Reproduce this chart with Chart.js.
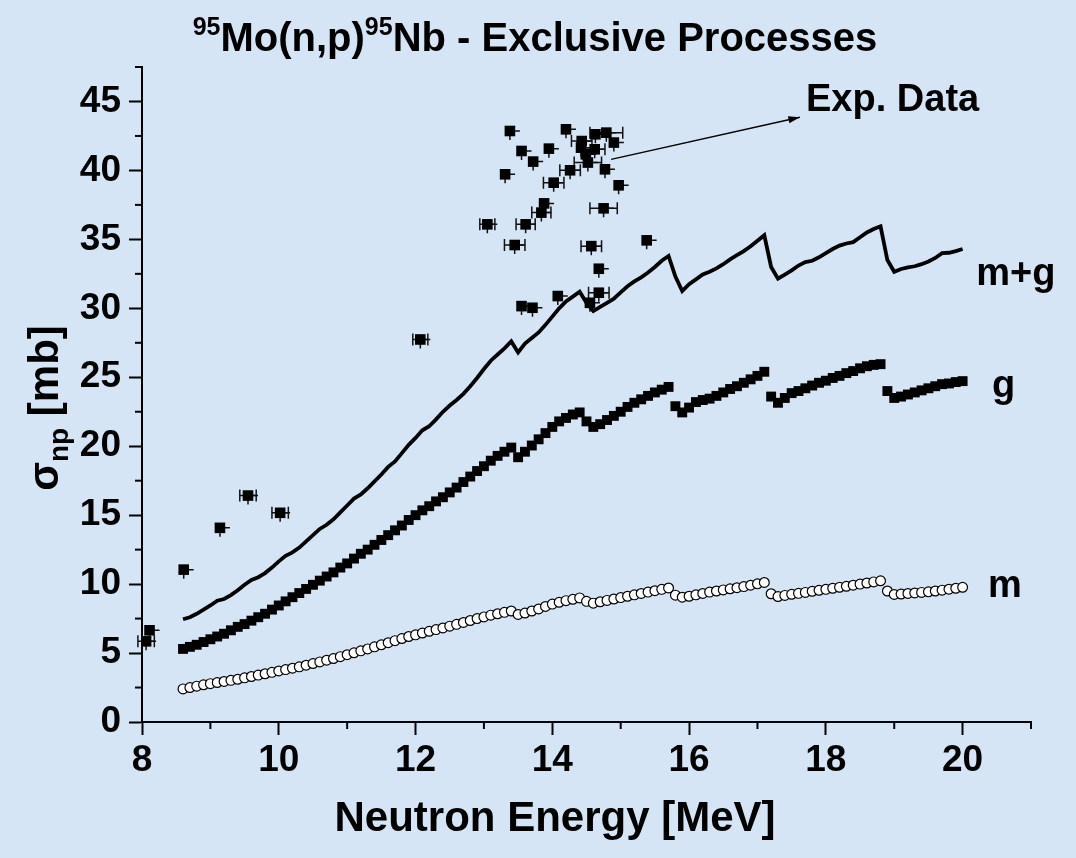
<!DOCTYPE html>
<html>
<head>
<meta charset="utf-8">
<title>95Mo(n,p)95Nb - Exclusive Processes</title>
<script src="https://cdn.jsdelivr.net/npm/chart.js@4.4.1/dist/chart.umd.min.js"></script>
<style>
  html, body { margin: 0; padding: 0; background: #d6e5f6; }
  #wrap { width: 1076px; height: 858px; }
</style>
</head>
<body>
<div id="wrap"><canvas id="np_chart" width="1076" height="858"></canvas></div>
<script>
// incident neutron energy grid (MeV)
const energies = [
  8.6, 8.7, 8.8, 8.9, 9.0, 9.1, 9.2, 9.3, 9.4, 9.5,
  9.6, 9.7, 9.8, 9.9, 10.0, 10.1, 10.2, 10.3, 10.4, 10.5,
  10.6, 10.7, 10.8, 10.9, 11.0, 11.1, 11.2, 11.3, 11.4, 11.5,
  11.6, 11.7, 11.8, 11.9, 12.0, 12.1, 12.2, 12.3, 12.4, 12.5,
  12.6, 12.7, 12.8, 12.9, 13.0, 13.1, 13.2, 13.3, 13.4, 13.5,
  13.6, 13.7, 13.8, 13.9, 14.0, 14.1, 14.2, 14.3, 14.4, 14.5,
  14.6, 14.7, 14.8, 14.9, 15.0, 15.1, 15.2, 15.3, 15.4, 15.5,
  15.6, 15.7, 15.8, 15.9, 16.0, 16.1, 16.2, 16.3, 16.4, 16.5,
  16.6, 16.7, 16.8, 16.9, 17.0, 17.1, 17.2, 17.3, 17.4, 17.5,
  17.6, 17.7, 17.8, 17.9, 18.0, 18.1, 18.2, 18.3, 18.4, 18.5,
  18.6, 18.7, 18.8, 18.9, 19.0, 19.1, 19.2, 19.3, 19.4, 19.5,
  19.6, 19.7, 19.8, 19.9, 20.0
];

// m+g (total), mb
const sigmaMG = [
  7.45, 7.6, 7.85, 8.15, 8.45, 8.8, 8.92, 9.2, 9.55, 9.95,
  10.3, 10.5, 10.8, 11.2, 11.65, 12.05, 12.3, 12.65, 13.1, 13.55,
  14.0, 14.3, 14.7, 15.2, 15.7, 16.2, 16.5, 16.95, 17.45, 17.95,
  18.5, 18.9, 19.5, 20.1, 20.6, 21.15, 21.45, 21.95, 22.5, 22.95,
  23.35, 23.8, 24.35, 24.95, 25.6, 26.2, 26.65, 27.1, 27.6, 26.8,
  27.45, 27.85, 28.25, 28.8, 29.4, 30.0, 30.5, 30.85, 31.2, 30.4,
  29.8, 30.1, 30.4, 30.7, 31.15, 31.6, 31.95, 32.25, 32.6, 33.0,
  33.45, 33.8, 32.3, 31.25, 31.75, 32.1, 32.45, 32.65, 32.9, 33.2,
  33.55, 33.85, 34.15, 34.5, 34.9, 35.3, 33.0, 32.15, 32.45, 32.75,
  33.1, 33.35, 33.45, 33.7, 34.0, 34.3, 34.55, 34.7, 34.8, 35.15,
  35.5, 35.75, 35.95, 33.5, 32.65, 32.85, 32.97, 33.05, 33.2, 33.4,
  33.65, 34.0, 34.03, 34.15, 34.3
];

// ground state g, mb
const sigmaG = [
  5.3, 5.45, 5.6, 5.8, 6.0, 6.2, 6.4, 6.65, 6.9, 7.1,
  7.35, 7.6, 7.85, 8.15, 8.45, 8.75, 9.05, 9.35, 9.65, 9.95,
  10.25, 10.55, 10.85, 11.2, 11.5, 11.85, 12.2, 12.5, 12.85, 13.2,
  13.55, 13.9, 14.25, 14.65, 15.0, 15.35, 15.65, 16.0, 16.3, 16.65,
  17.0, 17.4, 17.8, 18.2, 18.55, 18.95, 19.3, 19.6, 19.9, 19.2,
  19.6, 20.05, 20.5, 20.95, 21.4, 21.8, 22.05, 22.3, 22.45, 21.8,
  21.4, 21.6, 21.9, 22.2, 22.5, 22.85, 23.15, 23.4, 23.65, 23.9,
  24.1, 24.3, 22.9, 22.45, 22.8, 23.2, 23.35, 23.45, 23.65, 23.9,
  24.15, 24.35, 24.6, 24.85, 25.1, 25.4, 23.6, 23.15, 23.5, 23.85,
  24.0, 24.2, 24.4, 24.6, 24.75, 24.95, 25.1, 25.3, 25.45, 25.65,
  25.8, 25.9, 25.95, 24.0, 23.5, 23.6, 23.75, 23.9, 24.05, 24.2,
  24.35, 24.5, 24.55, 24.65, 24.72
];

// metastable state m, mb
const sigmaM = [
  2.4, 2.5, 2.6, 2.7, 2.78, 2.86, 2.94, 3.02, 3.1, 3.2,
  3.3, 3.4, 3.5, 3.6, 3.7, 3.8, 3.9, 4.0, 4.12, 4.24,
  4.36, 4.48, 4.6, 4.74, 4.88, 5.02, 5.16, 5.3, 5.45, 5.6,
  5.75, 5.9, 6.05, 6.2, 6.32, 6.45, 6.58, 6.7, 6.82, 6.95,
  7.08, 7.22, 7.36, 7.5, 7.62, 7.75, 7.85, 7.95, 8.05, 7.8,
  7.9, 8.05, 8.2, 8.38, 8.55, 8.68, 8.8, 8.9, 9.0, 8.75,
  8.62, 8.72, 8.82, 8.92, 9.02, 9.12, 9.22, 9.32, 9.42, 9.52,
  9.62, 9.72, 9.2, 9.05, 9.12, 9.22, 9.32, 9.42, 9.5, 9.58,
  9.66, 9.74, 9.82, 9.92, 10.02, 10.12, 9.3, 9.1, 9.18, 9.26,
  9.33, 9.4, 9.48, 9.55, 9.62, 9.7, 9.77, 9.84, 9.92, 10.0,
  10.08, 10.16, 10.24, 9.5, 9.25, 9.28, 9.32, 9.36, 9.4, 9.44,
  9.5, 9.56, 9.63, 9.7, 9.77
];

// experimental data
const expE = [
  8.06, 8.11, 8.61, 9.14, 9.55, 10.02, 12.07, 13.05, 13.31, 13.38,
  13.45, 13.55, 13.55, 13.61, 13.71, 13.72, 13.84, 13.88, 13.95, 14.02,
  14.08, 14.20, 14.26, 14.42, 14.43, 14.49, 14.52, 14.55, 14.57, 14.62,
  14.63, 14.68, 14.68, 14.75, 14.77, 14.79, 14.90, 14.97, 15.38
];
const expSigma = [
  5.85, 6.65, 11.05, 14.08, 16.42, 15.17, 27.74, 36.09, 39.72, 42.86,
  34.59, 41.41, 30.16, 36.09, 30.04, 40.64, 36.94, 37.61, 41.58, 39.11,
  30.89, 42.98, 40.01, 41.65, 42.13, 41.17, 40.57, 30.4, 34.51, 41.53,
  42.62, 32.87, 31.13, 37.25, 40.08, 42.74, 42.02, 38.92, 34.93
];
const expErrE = [
  0.12, 0, 0, 0, 0.12, 0.12, 0.11, 0.11, 0, 0,
  0.15, 0, 0, 0.14, 0, 0, 0.14, 0, 0, 0.15,
  0, 0, 0.15, 0, 0.15, 0, 0.2, 0, 0.15, 0.15,
  0, 0, 0.15, 0.2, 0, 0.24, 0, 0, 0
];

const xMajor = [8, 10, 12, 14, 16, 18, 20];
const yMajor = [0, 5, 10, 15, 20, 25, 30, 35, 40, 45];

const FONT = "'Liberation Sans', Arial, Helvetica, sans-serif";
const BG = '#d6e5f6';

function toPoints(xs, ys) {
  return xs.map((x, i) => ({ x: x, y: ys[i] }));
}

const overlay = {
  id: 'overlay',
  beforeDraw(chart) {
    const c = chart.ctx;
    c.save();
    c.fillStyle = BG;
    c.fillRect(0, 0, chart.width, chart.height);
    c.restore();
  },
  beforeDatasetsDraw(chart) {
    // horizontal error bars of the experimental points
    const c = chart.ctx, xs = chart.scales.x, ys = chart.scales.y;
    c.save();
    c.strokeStyle = '#111';
    c.lineWidth = 1.5;
    for (let i = 0; i < expE.length; i++) {
      const px = xs.getPixelForValue(expE[i]);
      const py = ys.getPixelForValue(expSigma[i]);
      c.beginPath();
      c.moveTo(px + 4, py); c.lineTo(px + 10, py);
      c.moveTo(px, py + 4); c.lineTo(px, py + 9);
      c.stroke();
      if (expErrE[i] > 0) {
        const x1 = xs.getPixelForValue(expE[i] - expErrE[i]);
        const x2 = xs.getPixelForValue(expE[i] + expErrE[i]);
        c.beginPath();
        c.moveTo(x1, py); c.lineTo(x2, py);
        c.moveTo(x1, py - 6); c.lineTo(x1, py + 6);
        c.moveTo(x2, py - 6); c.lineTo(x2, py + 6);
        c.stroke();
      }
    }
    c.restore();
  },
  afterDraw(chart) {
    const c = chart.ctx, xs = chart.scales.x, ys = chart.scales.y;
    const area = chart.chartArea;
    c.save();
    c.strokeStyle = '#000';
    c.fillStyle = '#000';
    c.lineWidth = 2;

    // minor ticks
    xs.ticks.forEach(t => {
      if (xMajor.indexOf(t.value) < 0) {
        const px = xs.getPixelForValue(t.value);
        c.beginPath(); c.moveTo(px, area.bottom); c.lineTo(px, area.bottom + 7); c.stroke();
      }
    });
    ys.ticks.forEach(t => {
      if (yMajor.indexOf(t.value) < 0) {
        const py = ys.getPixelForValue(t.value);
        c.beginPath(); c.moveTo(area.left, py); c.lineTo(area.left - 7, py); c.stroke();
      }
    });

    // title with superscripts
    const big = 'bold 40px ' + FONT, sup = 'bold 25px ' + FONT;
    const parts = [['95', sup, -16], ['Mo(n,p)', big, 0], ['95', sup, -16], ['Nb - Exclusive Processes', big, 0]];
    let total = 0;
    parts.forEach(p => { c.font = p[1]; total += c.measureText(p[0]).width; });
    let tx = 535 - total / 2;
    c.textBaseline = 'alphabetic';
    c.textAlign = 'left';
    parts.forEach(p => {
      c.font = p[1];
      c.fillText(p[0], tx, 51 + p[2]);
      tx += c.measureText(p[0]).width;
    });

    // x axis title
    c.font = 'bold 42px ' + FONT;
    c.textAlign = 'center';
    c.fillText('Neutron Energy [MeV]', 555, 831);

    // y axis title, rotated, with subscript
    c.save();
    c.translate(58, 408);
    c.rotate(-Math.PI / 2);
    const ybig = 'bold 42px ' + FONT;
    const yparts = [['\u03c3', ybig, 0], ['np', 'bold 28px ' + FONT, 10], [' [mb]', ybig, 0]];
    let yw = 0;
    yparts.forEach(p => { c.font = p[1]; yw += c.measureText(p[0]).width; });
    let yx = -yw / 2;
    c.textAlign = 'left';
    yparts.forEach(p => {
      c.font = p[1];
      c.fillText(p[0], yx, p[2]);
      yx += c.measureText(p[0]).width;
    });
    c.restore();

    // curve labels
    c.font = 'bold 38px ' + FONT;
    c.textAlign = 'left';
    c.fillText('m+g', xs.getPixelForValue(20.2), ys.getPixelForValue(31.7));
    c.fillText('g', xs.getPixelForValue(20.43), ys.getPixelForValue(23.6));
    c.fillText('m', xs.getPixelForValue(20.37), ys.getPixelForValue(9.1));
    c.fillText('Exp. Data', xs.getPixelForValue(17.71), ys.getPixelForValue(44.3));

    // arrow pointing at the data cluster
    const ax1 = xs.getPixelForValue(14.86), ay1 = ys.getPixelForValue(40.8);
    const ax2 = xs.getPixelForValue(17.62), ay2 = ys.getPixelForValue(43.85);
    c.lineWidth = 1.5;
    c.beginPath(); c.moveTo(ax1, ay1); c.lineTo(ax2, ay2); c.stroke();
    const ang = Math.atan2(ay2 - ay1, ax2 - ax1);
    c.beginPath();
    c.moveTo(ax2, ay2);
    c.lineTo(ax2 - 12 * Math.cos(ang - 0.3), ay2 - 12 * Math.sin(ang - 0.3));
    c.lineTo(ax2 - 12 * Math.cos(ang + 0.3), ay2 - 12 * Math.sin(ang + 0.3));
    c.closePath();
    c.fill();
    c.restore();
  }
};

const tickFont = { family: FONT, size: 37, weight: 'bold' };

new Chart(document.getElementById('np_chart'), {
  type: 'scatter',
  data: {
    datasets: [
      {
        label: 'm+g',
        data: toPoints(energies, sigmaMG),
        showLine: true,
        borderColor: '#000',
        borderWidth: 3.8,
        pointRadius: 0,
        tension: 0
      },
      {
        label: 'g',
        data: toPoints(energies, sigmaG),
        pointStyle: 'rect',
        pointRadius: 7,
        backgroundColor: '#000',
        borderColor: '#000',
        borderWidth: 0
      },
      {
        label: 'm',
        data: toPoints(energies, sigmaM),
        pointStyle: 'circle',
        pointRadius: 4.9,
        backgroundColor: '#fff',
        borderColor: '#000',
        borderWidth: 1.2
      },
      {
        label: 'Exp. Data',
        data: toPoints(expE, expSigma),
        pointStyle: 'rect',
        pointRadius: 7.5,
        backgroundColor: '#000',
        borderColor: '#000',
        borderWidth: 0
      }
    ]
  },
  options: {
    responsive: false,
    animation: false,
    layout: { padding: { left: 0, top: 67, right: 45, bottom: 0 } },
    plugins: { legend: { display: false }, title: { display: false }, tooltip: { enabled: false } },
    scales: {
      x: {
        type: 'linear',
        min: 8,
        max: 21,
        border: { display: true, color: '#000', width: 2 },
        grid: {
          drawOnChartArea: false,
          drawTicks: true,
          tickLength: 13,
          tickWidth: 2,
          tickColor: ctx => (ctx.tick && xMajor.indexOf(ctx.tick.value) >= 0) ? '#000' : 'rgba(0,0,0,0)'
        },
        ticks: {
          stepSize: 1,
          autoSkip: false,
          maxRotation: 0,
          padding: 4,
          color: '#000',
          font: tickFont,
          callback: v => xMajor.indexOf(v) >= 0 ? String(v) : ''
        },
        afterFit: s => { s.height = 136; }
      },
      y: {
        type: 'linear',
        min: 0,
        max: 47.5,
        border: { display: true, color: '#000', width: 2 },
        grid: {
          drawOnChartArea: false,
          drawTicks: true,
          tickLength: 13,
          tickWidth: 2,
          tickColor: ctx => (ctx.tick && yMajor.indexOf(ctx.tick.value) >= 0) ? '#000' : 'rgba(0,0,0,0)'
        },
        ticks: {
          stepSize: 2.5,
          autoSkip: false,
          padding: 8,
          color: '#000',
          font: tickFont,
          callback: v => yMajor.indexOf(v) >= 0 ? String(v) : ''
        },
        afterFit: s => { s.width = 142; }
      }
    }
  },
  plugins: [overlay]
});
</script>
</body>
</html>
